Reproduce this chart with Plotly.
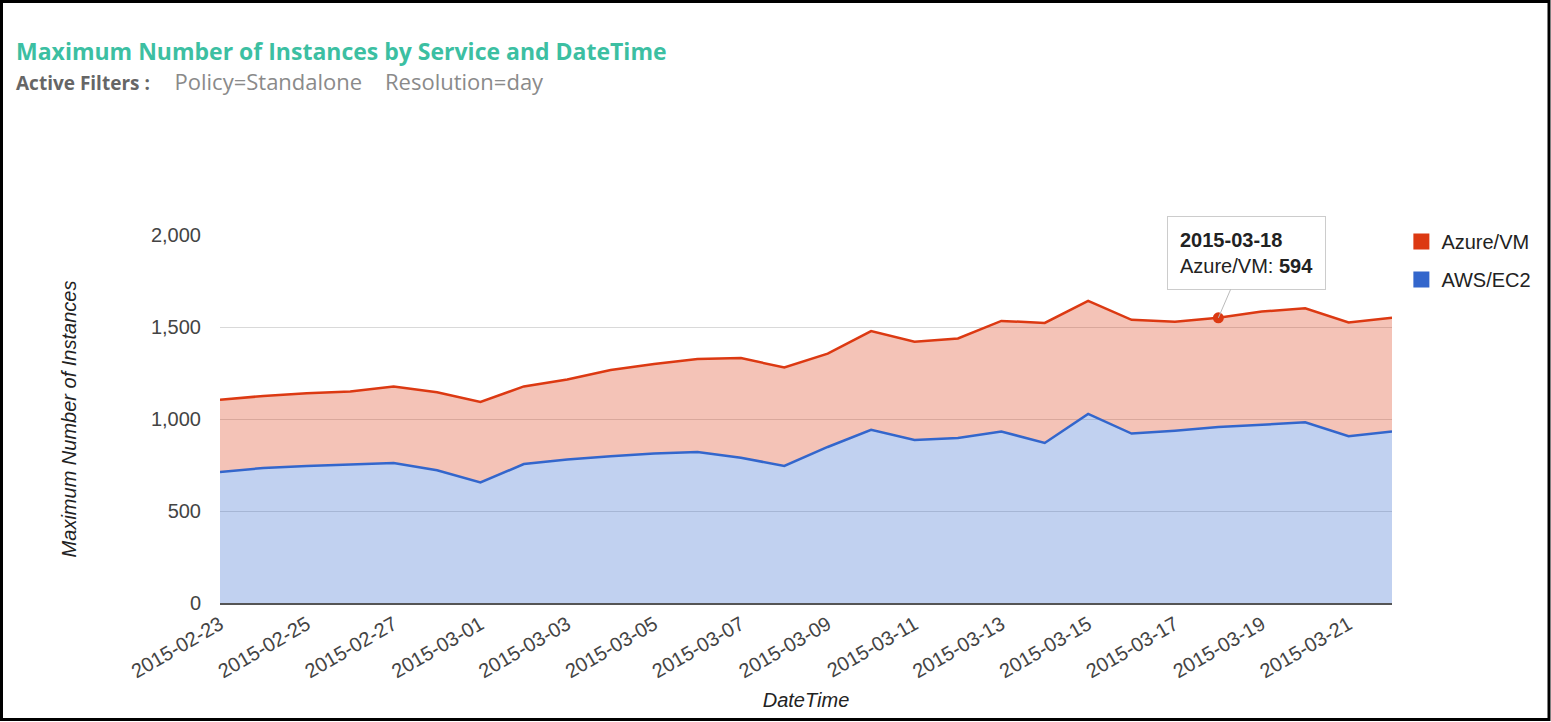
import pandas as pd
import plotly.graph_objects as go

# daily values
dates = pd.date_range("2015-02-23", "2015-03-22", freq="D")
aws_ec2 = [712, 734, 745, 752, 761, 721, 655, 755, 780, 798, 812, 820, 789, 745,
           848, 941, 886, 897, 932, 870, 1028, 921, 936, 956, 968, 982, 906, 932]
azure_vm = [393, 391, 395, 398, 416, 424, 438, 422, 435, 468, 487, 506, 542, 535,
            507, 537, 534, 541, 601, 652, 614, 618, 593, 594, 616, 620, 619, 618]
focus_date = "2015-03-18"

RED = "#dc3912"
BLUE = "#3366cc"
FONT = "Liberation Sans, Arial, sans-serif"
TITLE_FONT = "Open Sans, sans-serif"

fig = go.Figure()

fig.add_trace(go.Scatter(
    x=dates, y=aws_ec2, name="AWS/EC2", stackgroup="one",
    line=dict(color=BLUE, width=2.5), fillcolor="rgba(51,102,204,0.3)",
    showlegend=False,
))
fig.add_trace(go.Scatter(
    x=dates, y=azure_vm, name="Azure/VM", stackgroup="one",
    line=dict(color=RED, width=2.5), fillcolor="rgba(220,57,18,0.3)",
    showlegend=False,
))

# highlighted point (tooltip target)
i = list(dates.strftime("%Y-%m-%d")).index(focus_date)
focus_total = aws_ec2[i] + azure_vm[i]
fig.add_trace(go.Scatter(
    x=[dates[i]], y=[focus_total], mode="markers",
    marker=dict(color=RED, size=11), showlegend=False, hoverinfo="skip",
))

# square legend entries
for name, color in [("Azure/VM", RED), ("AWS/EC2", BLUE)]:
    fig.add_trace(go.Scatter(
        x=[None], y=[None], mode="markers", name=name, legendgroup=name,
        marker=dict(symbol="square", size=21, color=color),
    ))

fig.add_annotation(
    x=dates[i], y=focus_total, xref="x", yref="y",
    text="<b>" + focus_date + "</b><br>Azure/VM: <b>" + str(azure_vm[i]) + "</b>",
    showarrow=True, arrowhead=0, arrowwidth=1, arrowcolor="#bbbbbb",
    ax=28, ay=-65, align="left",
    bgcolor="white", bordercolor="#cccccc", borderwidth=1, borderpad=12,
    font=dict(family=FONT, size=20, color="#222222"),
)

# title and filters
fig.add_annotation(
    x=0, y=1, xref="paper", yref="paper", xshift=-206, yshift=184,
    text="<b>Maximum Number of Instances by Service and DateTime</b>",
    showarrow=False, xanchor="left", yanchor="middle",
    font=dict(family=TITLE_FONT, size=23, color="#3cbfa2"),
)
fig.add_annotation(
    x=0, y=1, xref="paper", yref="paper", xshift=-206, yshift=154,
    text="<b>Active Filters :</b>     <span style='color:#8a8a8a;font-size:22px'>Policy=Standalone    Resolution=day</span>",
    showarrow=False, xanchor="left", yanchor="middle",
    font=dict(family=TITLE_FONT, size=19, color="#666666"),
)

# outer frame
W, H = 1172, 368
fig.add_shape(
    type="rect", xref="paper", yref="paper", layer="above",
    x0=-218.5 / W, x1=1 + 157 / W, y0=-116.5 / H, y1=1 + 233.5 / H,
    line=dict(color="black", width=3),
)

fig.update_layout(
    width=1551, height=722,
    margin=dict(l=220, r=159, t=235, b=119),
    paper_bgcolor="white", plot_bgcolor="white",
    font=dict(family=FONT, size=20, color="#444444"),
    legend=dict(
        x=1.008, y=1.035, xanchor="left", yanchor="top",
        font=dict(family=FONT, size=20, color="#222222"),
        itemsizing="trace", tracegroupgap=9, traceorder="grouped",
    ),
    hovermode="closest",
)

fig.update_xaxes(
    range=[dates[0], dates[-1]],
    tickformat="%Y-%m-%d", dtick=2 * 86400000, tick0=dates[0],
    tickangle=-30, tickfont=dict(size=20, color="#444444"),
    showgrid=False, showline=True, linecolor="#555555", linewidth=2,
    ticks="", title=dict(text="<i>DateTime</i>", font=dict(size=20, color="#222222"), standoff=12),
)
fig.update_yaxes(
    range=[0, 2000], dtick=500, tickformat=",",
    gridcolor="#d9d9d9", gridwidth=1, zeroline=False,
    tickfont=dict(size=20, color="#444444"), ticklabelstandoff=18,
    title=dict(text="<i>Maximum Number of Instances</i>", font=dict(size=20, color="#222222"), standoff=68),
)

fig.write_html("out.html", config={"displayModeBar": False},
               post_script="document.body.style.margin='0px';")
